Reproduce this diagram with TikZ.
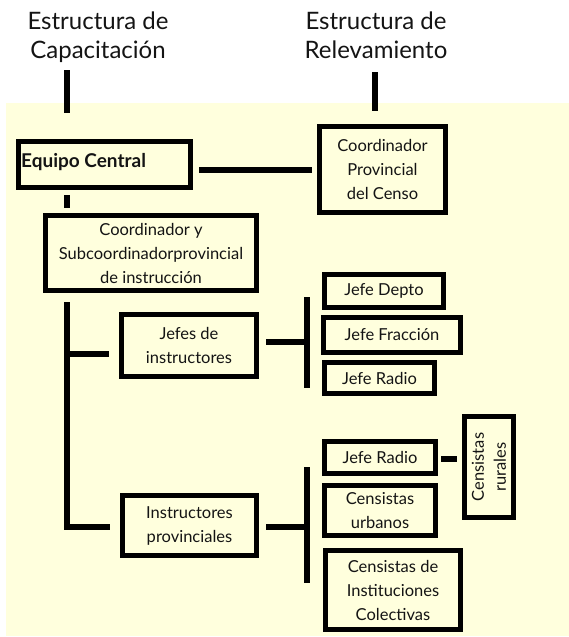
\documentclass[tikz,border=0pt]{standalone}
\usepackage{fontspec}
\setmainfont{Lato}
\definecolor{cream}{RGB}{255,255,221}
\definecolor{ink}{RGB}{20,20,20}
\tikzset{
  box/.style={draw=black, line width=5.5pt, fill=cream, inner sep=0pt, align=center,
    text=ink, font=\fontsize{16.5}{24}\selectfont},
  conn/.style={line width=5.5pt, black},
  toptext/.style={align=center, text=ink, font=\fontsize{24}{29}\selectfont}
}
\begin{document}
\begin{tikzpicture}[x=1pt,y=-1pt]
\useasboundingbox (0,0) rectangle (569,637);
\fill[cream] (6,103) rectangle (569,636);

\node[toptext] (capt) at (98,37) {Estructura de\\Capacitación};
\node[toptext] (relev) at (376,35) {Estructura de\\Relevamiento};
\coordinate (c1a) at (67,70);
\coordinate (c1b) at (67,113);
\coordinate (c2a) at (375,72);
\coordinate (c2b) at (375,111);
\draw[conn] (c1a) -- (c1b);
\draw[conn] (c2a) -- (c2b);

\node[box, minimum width=172pt, minimum height=46pt] (eq) at (104.5,164.5) {};
\node[anchor=west, inner sep=0pt, text=ink, font=\fontsize{19}{22}\selectfont\bfseries] (eqt) at (21,162) {Equipo Central};
\node[box, minimum width=126pt, minimum height=86pt] (cpc) at (382.5,169.5) {Coordinador\\Provincial\\del Censo};
\node[box, minimum width=211pt, minimum height=75pt] (cys) at (151,253) {Coordinador y\\Subcoordinadorprovincial\\de instrucción};
\node[box, minimum width=135pt, minimum height=62pt] (ji) at (189,345.5) {Jefes de\\instructores};
\node[box, minimum width=119pt, minimum height=33pt] (jd) at (384,291) {Jefe Depto};
\node[box, minimum width=137pt, minimum height=35pt] (jf) at (392,335) {Jefe Fracción};
\node[box, minimum width=110pt, minimum height=31pt] (jr1) at (379.5,378) {Jefe Radio};
\node[box, minimum width=134pt, minimum height=60pt] (ip) at (189.5,525.5) {Instructores\\provinciales};
\node[box, minimum width=111pt, minimum height=32pt] (jr2) at (380,457.5) {Jefe Radio};
\node[box, minimum width=49pt, minimum height=101pt] (cr) at (489,467) {};
\node[rotate=90, align=center, text=ink, font=\fontsize{16.5}{22}\selectfont] (crt) at (cr.center) {Censistas\\rurales};
\node[box, minimum width=111pt, minimum height=50pt] (cu) at (380,510.5) {Censistas\\urbanos};
\node[box, minimum width=135pt, minimum height=79pt] (cic) at (393,590) {Censistas de\\Instituciones\\Colectivas};

% connectors
\draw[conn, shorten <=6pt, shorten >=5pt] (eq.east |- 0,170) -- (cpc.west |- 0,170);
\draw[conn, shorten <=5pt, shorten >=5pt] (eq.south -| c1a) -- (cys.north -| c1a);

\coordinate (t1) at (67,302);
\coordinate (t2) at (67,527);
\coordinate (tj) at (67,354);
\draw[conn, shorten >=10pt] (t1) -- (t2) -- (ip.west |- t2);
\draw[conn, shorten >=10pt] (tj) -- (ji.west |- tj);

\coordinate (b1a) at (307,297);
\coordinate (b1b) at (307,388);
\coordinate (b1m) at (307,342);
\draw[conn] (b1a) -- (b1b);
\draw[conn, shorten <=7pt] (ji.east |- b1m) -- (b1m);

\coordinate (b2a) at (307,467);
\coordinate (b2b) at (307,583);
\coordinate (b2m) at (307,527);
\draw[conn] (b2a) -- (b2b);
\draw[conn, shorten <=7pt] (ip.east |- b2m) -- (b2m);

\draw[conn, shorten <=3pt, shorten >=5pt] (jr2.east |- 0,459) -- (cr.west |- 0,459);
\end{tikzpicture}
\end{document}
